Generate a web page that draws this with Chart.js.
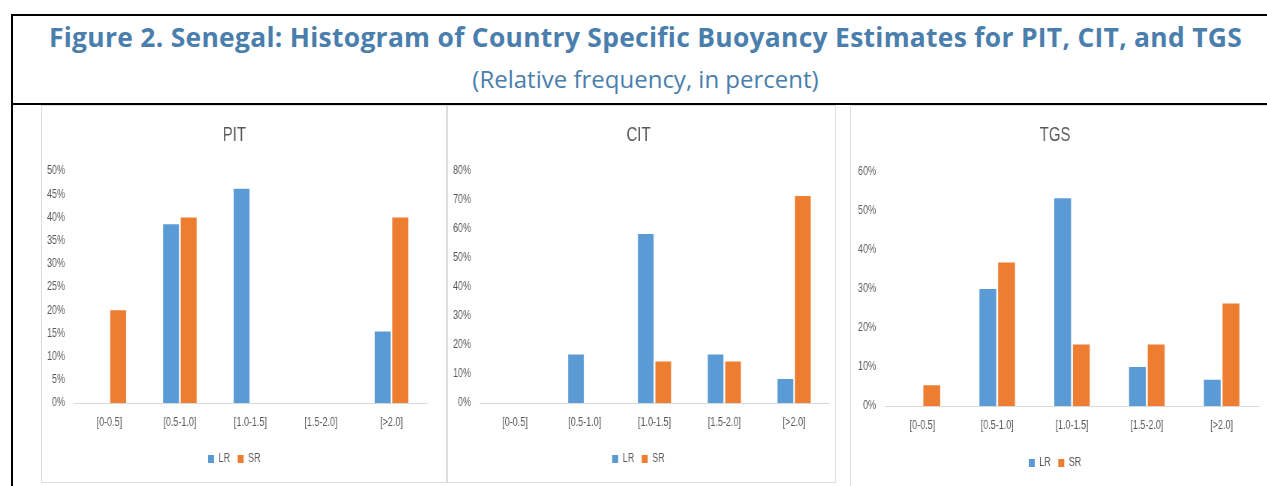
<!DOCTYPE html>
<html>
<head>
<meta charset="utf-8">
<script src="https://cdn.jsdelivr.net/npm/chart.js@4.4.1/dist/chart.umd.min.js"></script>
<style>
  html, body { margin: 0; padding: 0; background: #ffffff; }
  body { width: 1267px; height: 486px; position: relative; overflow: hidden; }
  .line { position: absolute; background: #000; }
  .txt { position: absolute; left: 12px; width: 1267px; text-align: center; color: #4a7eac; white-space: nowrap; }
  #title { top: 20px; font-family: "Open Sans", sans-serif; font-weight: 700; font-size: 26.4px; line-height: 34px; letter-spacing: 0.3px; }
  #subtitle { top: 64px; font-family: "Open Sans", sans-serif; font-size: 24px; line-height: 30px; }
  .panel { position: absolute; border: 1px solid #dedede; box-sizing: border-box; background: #fff; overflow: hidden; }
  .panel .inner { position: absolute; left: 0; top: 0; transform-origin: 0 0; }
</style>
</head>
<body>
<div class="line" style="left:11px; top:14px; width:1260px; height:2px;"></div>
<div class="line" style="left:11px; top:14px; width:2px; height:480px;"></div>
<div class="line" style="left:11px; top:103px; width:1260px; height:2px;"></div>
<div id="title" class="txt">Figure 2. Senegal: Histogram of Country Specific Buoyancy Estimates for PIT, CIT, and TGS</div>
<div id="subtitle" class="txt">(Relative frequency, in percent)</div>

<div class="panel" id="p1" style="left:41px; top:105px; width:406px; height:378px;"><div class="inner"><canvas id="c1"></canvas></div></div>
<div class="panel" id="p2" style="left:447px; top:105px; width:389px; height:378px;"><div class="inner"><canvas id="c2"></canvas></div></div>
<div class="panel" id="p3" style="left:850px; top:105px; width:422px; height:386px;"><div class="inner"><canvas id="c3"></canvas></div></div>

<script>
// ---- data ----
const categories = ["[0-0.5]", "[0.5-1.0]", "[1.0-1.5]", "[1.5-2.0]", "[>2.0]"];
const seriesNames = ["LR", "SR"];

const pitLR = [0, 38.5, 46.2, 0, 15.4];
const pitSR = [20, 40, 0, 0, 40];

const citLR = [0, 16.7, 58.3, 16.7, 8.3];
const citSR = [0, 0, 14.3, 14.3, 71.4];

const tgsLR = [0, 30, 53.3, 10, 6.7];
const tgsSR = [5.3, 36.8, 15.8, 15.8, 26.3];

const pitTicks = { max: 50, step: 5 };
const citTicks = { max: 80, step: 10 };
const tgsTicks = { max: 60, step: 10 };

// ---- styles ----
const LR_COLOR = "#5b9bd5";
const SR_COLOR = "#ed7d31";
const TEXT_GRAY = "#595959";
const FONT = "'Liberation Sans', Arial, sans-serif";
const SX = 0.75; // horizontal condensing of the chart panels (narrow chart font look)

function makeChart(panelId, id, title, lr, sr, ticks, g) {
  const panel = document.getElementById(panelId);
  const inner = panel.querySelector(".inner");
  const w = panel.clientWidth, h = panel.clientHeight;
  inner.style.width = (w / SX) + "px";
  inner.style.height = h + "px";
  inner.style.transform = "scaleX(" + SX + ")";
  return new Chart(document.getElementById(id), {
    type: "bar",
    data: {
      labels: categories,
      datasets: [
        { label: seriesNames[0], data: lr, backgroundColor: LR_COLOR, borderWidth: 0 },
        { label: seriesNames[1], data: sr, backgroundColor: SR_COLOR, borderWidth: 0 }
      ]
    },
    options: {
      responsive: true,
      maintainAspectRatio: false,
      animation: false,
      events: [],
      layout: { padding: { left: 0, right: g.padRight / SX, top: 0, bottom: g.padBottom } },
      datasets: { bar: { categoryPercentage: 0.5, barPercentage: 0.9 } },
      plugins: {
        title: {
          display: true, text: title, color: TEXT_GRAY,
          font: { family: FONT, size: 20, weight: "normal", lineHeight: 1.2 },
          padding: { top: g.titleTop, bottom: g.titleBottom }
        },
        legend: {
          display: true, position: "bottom",
          labels: { color: TEXT_GRAY, font: { family: FONT, size: 12 }, boxWidth: 6 / SX, boxHeight: 8, padding: 10 }
        },
        tooltip: { enabled: false }
      },
      scales: {
        x: {
          grid: { display: false, drawTicks: false },
          border: { display: true, color: "#d9d9d9", width: 1 },
          ticks: { color: TEXT_GRAY, font: { family: FONT, size: 12 }, padding: g.xPad, maxRotation: 0, autoSkip: false },
          afterFit: (s) => { s.height = g.xHeight; }
        },
        y: {
          min: 0, max: ticks.max,
          grid: { display: false, drawTicks: false },
          border: { display: false },
          ticks: { stepSize: ticks.step, color: TEXT_GRAY, font: { family: FONT, size: 12 }, padding: 9 / SX,
                   callback: (v) => v + "%" },
          afterFit: (s) => { s.width = g.yWidth / SX; }
        }
      }
    }
  });
}

makeChart("p1", "c1", "PIT", pitLR, pitSR, pitTicks,
  { padRight: 20, padBottom: 7, titleTop: 17, titleBottom: 24, xPad: 12, xHeight: 40, yWidth: 32 });
makeChart("p2", "c2", "CIT", citLR, citSR, citTicks,
  { padRight: 6, padBottom: 7, titleTop: 17, titleBottom: 24, xPad: 12, xHeight: 40, yWidth: 32 });
makeChart("p3", "c3", "TGS", tgsLR, tgsSR, tgsTicks,
  { padRight: 12, padBottom: 11, titleTop: 17, titleBottom: 25, xPad: 12, xHeight: 41, yWidth: 34 });
</script>
</body>
</html>
